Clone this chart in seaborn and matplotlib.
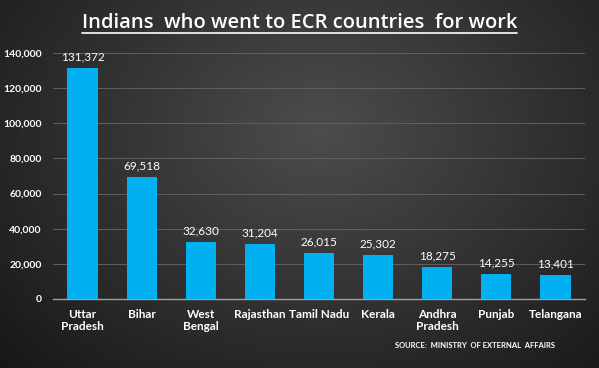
import numpy as np
import matplotlib
matplotlib.use("Agg")
import matplotlib.pyplot as plt
import seaborn as sns
import pandas as pd

states = ["Uttar\nPradesh", "Bihar", "West\nBengal", "Rajasthan", "Tamil Nadu",
          "Kerala", "Andhra\nPradesh", "Punjab", "Telangana"]
workers = [131372, 69518, 32630, 31204, 26015, 25302, 18275, 14255, 13401]
yticks = [0, 20000, 40000, 60000, 80000, 100000, 120000, 140000]
title = "Indians  who went to ECR countries  for work"
source = "SOURCE:  MINISTRY  OF EXTERNAL  AFFAIRS"

sns.set_theme(style="dark")
plt.rcParams['font.family'] = ['Lato', 'DejaVu Sans']

fig = plt.figure(figsize=(5.99, 3.68), dpi=100)

# radial gradient background
bg = fig.add_axes([0, 0, 1, 1], zorder=-10)
yy, xx = np.mgrid[0:368, 0:599]
r = np.sqrt(((xx - 320) / 420.0) ** 2 + ((yy - 130) / 330.0) ** 2)
val = np.clip(0.30 - 0.20 * r, 0.08, 0.32)
img = np.dstack([val, val, val])
bg.imshow(img, aspect="auto", extent=[0, 1, 0, 1], origin="upper")
bg.set_axis_off()

ax = fig.add_axes([53 / 599, 1 - 299 / 368, (585 - 53) / 599, (299 - 53) / 368])
ax.patch.set_alpha(0)
df = pd.DataFrame({"state": states, "workers": workers})
sns.barplot(data=df, x="state", y="workers", color="#00B0F0", saturation=1,
            width=0.51, linewidth=0, ax=ax, zorder=3)
ax.set_ylim(0, 140000)
ax.set_xlim(-0.5, 8.5)
ax.set_yticks(yticks)
ax.set_yticklabels([f"{v:,}" for v in yticks], color="white", fontsize=7.5, fontweight="bold")
ax.set_xticks(range(len(states)))
ax.set_xticklabels(states, color="white", fontsize=8.5, fontweight="bold", linespacing=1.15)
ax.tick_params(axis="both", length=0, pad=7)
ax.tick_params(axis="y", pad=8)
ax.set_xlabel("")
ax.set_ylabel("")
ax.grid(axis="y", color="#606060", linewidth=0.7, zorder=0)
ax.grid(axis="x", visible=False)
for s in ["top", "right", "left"]:
    ax.spines[s].set_visible(False)
ax.spines["bottom"].set_color("#a0a0a0")
ax.spines["bottom"].set_linewidth(1.0)

for i, v in enumerate(workers):
    ax.annotate(f"{v:,}", (i, v), xytext=(0, 4), textcoords="offset points",
                ha="center", va="bottom", color="white", fontsize=8.5)

t = fig.text(0.5, 1 - 23 / 368, title, ha="center", va="center", color="white",
             fontsize=14.5, fontweight="semibold", family=["Open Sans", "DejaVu Sans"])
fig.canvas.draw()
bb = t.get_window_extent().transformed(fig.transFigure.inverted())
# underline
fig.add_artist(plt.Line2D([bb.x0, bb.x1], [1 - 33 / 368, 1 - 33 / 368],
                          color="white", linewidth=1.2))
fig.text(555 / 599, 1 - 346 / 368, source, ha="right", va="center", color="white",
         fontsize=5.5, fontweight="bold")

fig.savefig("out.png", dpi=100)
